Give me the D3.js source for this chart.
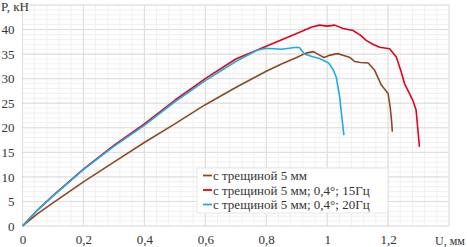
<!DOCTYPE html>
<html>
<head>
<meta charset="utf-8">
<script src="https://cdn.jsdelivr.net/npm/d3@7"></script>
<style>
  body { margin: 0; background: #fff; }
  svg text { font-family: 'Liberation Serif', serif !important; }
</style>
</head>
<body>
<div id="chart"></div>
<script>
// Data: U, mm / P, kN
const brownU = [0, 0.05, 0.1, 0.2, 0.3, 0.4, 0.5, 0.6, 0.7, 0.8, 0.85, 0.9, 0.93, 0.955, 0.975, 0.99, 1.01, 1.035, 1.06, 1.075, 1.09, 1.11, 1.135, 1.156, 1.178, 1.2, 1.207, 1.212, 1.214];
const brownP = [0, 2.5, 4.7, 9.0, 13.0, 17.0, 20.8, 24.7, 28.2, 31.5, 33.0, 34.3, 35.2, 35.5, 34.8, 34.3, 34.8, 35.1, 34.6, 34.3, 33.5, 33.3, 33.2, 31.7, 28.7, 27.0, 24.2, 21.0, 19.2];

const redU = [0, 0.05, 0.1, 0.2, 0.3, 0.4, 0.5, 0.6, 0.7, 0.8, 0.9, 0.95, 0.975, 1.0, 1.025, 1.052, 1.085, 1.11, 1.128, 1.15, 1.172, 1.205, 1.227, 1.243, 1.254, 1.27, 1.281, 1.292, 1.297, 1.303];
const redP = [0, 3.3, 6.2, 11.6, 16.4, 20.8, 25.6, 30.0, 34.0, 36.6, 39.2, 40.5, 40.9, 40.7, 40.9, 40.2, 39.8, 38.8, 37.8, 37.0, 36.4, 36.1, 34.4, 31.4, 29.0, 27.0, 25.6, 23.6, 20.2, 16.1];

const cyanU = [0, 0.05, 0.1, 0.2, 0.3, 0.4, 0.5, 0.6, 0.7, 0.77, 0.8, 0.85, 0.9, 0.91, 0.925, 0.95, 0.975, 1.005, 1.02, 1.03, 1.041, 1.047, 1.055];
const cyanP = [0, 3.3, 6.1, 11.5, 16.2, 20.5, 25.3, 29.6, 33.5, 35.8, 36.2, 36.0, 36.4, 36.3, 35.0, 34.5, 34.1, 33.2, 31.8, 30.3, 26.3, 22.9, 18.5];

const seriesNames = ['с трещиной 5 мм', 'с трещиной 5 мм; 0,4°; 15Гц', 'с трещиной 5 мм; 0,4°; 20Гц'];
const seriesColors = ['#8B4A22', '#E8001C', '#1BAEE0'];
const xTicks = [0, 0.2, 0.4, 0.6, 0.8, 1, 1.2];
const yTicks = [0, 5, 10, 15, 20, 25, 30, 35, 40];

const width = 467, height = 247;
const margin = {top: 5, right: 18, bottom: 21, left: 22.5};

const svg = d3.select('#chart')
  .append('svg')
    .attr('width', width)
    .attr('height', height);

const x = d3.scaleLinear().domain([0, 1.4]).range([margin.left, width - margin.right]);
const y = d3.scaleLinear().domain([0, 45]).range([height - margin.bottom, margin.top]);

// Minor grid
const grid = svg.append('g').attr('fill', 'none');
grid.selectAll('.vminor')
  .data(d3.range(0, 1.4001, 0.04))
  .join('line')
    .attr('x1', d => x(d)).attr('x2', d => x(d))
    .attr('y1', y(0)).attr('y2', y(45))
    .attr('stroke', '#f0f0f0');
grid.selectAll('.hminor')
  .data(d3.range(0, 45.001, 1))
  .join('line')
    .attr('x1', x(0)).attr('x2', x(1.4))
    .attr('y1', d => y(d)).attr('y2', d => y(d))
    .attr('stroke', '#f0f0f0');

// Major grid
svg.append('g')
  .selectAll('line')
  .data(d3.range(0, 1.4001, 0.2))
  .join('line')
    .attr('x1', d => x(d)).attr('x2', d => x(d))
    .attr('y1', y(0)).attr('y2', y(45))
    .attr('stroke', '#dcdcdc');
svg.append('g')
  .selectAll('line')
  .data(d3.range(0, 45.001, 5))
  .join('line')
    .attr('x1', x(0)).attr('x2', x(1.4))
    .attr('y1', d => y(d)).attr('y2', d => y(d))
    .attr('stroke', '#dcdcdc');

// Axes
const fmt = d => String(d).replace('.', ',');
svg.append('g')
    .attr('transform', `translate(0,${y(0)})`)
    .call(d3.axisBottom(x).tickValues(xTicks).tickSize(0).tickPadding(9).tickFormat(fmt))
    .call(g => g.select('.domain').remove())
    .call(g => g.attr('font-size', 13))
    .call(g => g.selectAll('text').attr('fill', '#333'));
svg.append('g')
    .attr('transform', `translate(${x(0)},0)`)
    .call(d3.axisLeft(y).tickValues(yTicks).tickSize(0).tickPadding(8))
    .call(g => g.select('.domain').remove())
    .call(g => g.attr('font-size', 13))
    .call(g => g.selectAll('text').attr('fill', '#333'));

svg.append('text')
    .attr('x', x(1.4) + 1)
    .attr('y', y(0) + 19)
    .attr('text-anchor', 'middle')
    .attr('font-size', 12)
    .attr('fill', '#333')
    .text('U, мм');
svg.append('text')
    .attr('x', 1)
    .attr('y', margin.top + 6)
    .attr('font-size', 13)
    .attr('fill', '#333')
    .text('P, кН');

// Curves
const line = d3.line().x(d => x(d[0])).y(d => y(d[1]));
const series = [
  d3.zip(brownU, brownP),
  d3.zip(redU, redP),
  d3.zip(cyanU, cyanP)
];
svg.append('g')
  .selectAll('path')
  .data(series)
  .join('path')
    .attr('fill', 'none')
    .attr('stroke', (d, i) => seriesColors[i])
    .attr('stroke-width', 1.6)
    .attr('stroke-linejoin', 'round')
    .attr('d', line);

// Legend
const legend = svg.append('g').attr('transform', 'translate(197,168)');
legend.append('rect')
    .attr('width', 191).attr('height', 45)
    .attr('fill', '#fff').attr('stroke', '#e6e6e6');
const items = legend.selectAll('g.item')
  .data(seriesNames)
  .join('g')
    .attr('class', 'item')
    .attr('transform', (d, i) => `translate(0,${7.5 + i * 14.5})`);
items.append('line')
    .attr('x1', 6).attr('x2', 15)
    .attr('stroke', (d, i) => seriesColors[i])
    .attr('stroke-width', 1.8);
items.append('text')
    .attr('x', 16)
    .attr('y', 4.5)
    .attr('font-size', 13)
    .attr('fill', '#333')
    .text(d => d);
</script>
</body>
</html>
